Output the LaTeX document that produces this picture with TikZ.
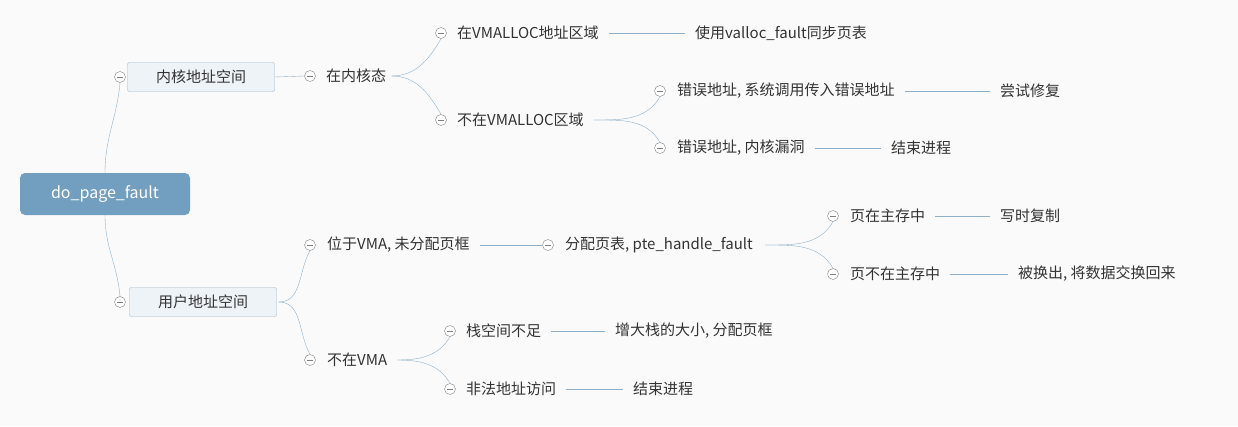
\documentclass[tikz,border=0pt]{standalone}
\usepackage{fontspec}
\setmainfont{Noto Sans CJK SC}
\usetikzlibrary{positioning}
\definecolor{lineColor}{HTML}{8FB0C8}
\definecolor{rootColor}{HTML}{729FC0}
\definecolor{boxColor}{HTML}{EEF3F8}
\definecolor{boxLine}{HTML}{9DB5CA}
\tikzset{
  x=1pt,y=-1pt,
  txt/.style={anchor=west,inner sep=0pt,font=\fontsize{15}{18}\selectfont,text=black!80},
  fold/.style={circle,draw=gray,fill=white,inner sep=0pt,minimum size=11pt,thin,
    path picture={\draw[gray] ([xshift=-3pt]path picture bounding box.center) -- ([xshift=3pt]path picture bounding box.center);}},
  link/.style={draw=lineColor,thin},
  sub/.style={draw=boxLine,fill=boxColor,rounded corners=2pt,minimum width=147pt,minimum height=29pt,inner sep=0pt,font=\fontsize{15}{18}\selectfont,text=black!80}
}
\begin{document}
\begin{tikzpicture}
\fill[white!98!black] (0,0) rectangle (1238,426);
\useasboundingbox (0,0) rectangle (1238,426);
% root and first level
\node[fill=rootColor,rounded corners=5pt,minimum width=170pt,minimum height=42pt,text=white,font=\fontsize{16}{18}\selectfont] (root) at (105,194) {do\_page\_fault};
\node[sub] (kern) at (201,77) {内核地址空间};
\node[sub] (user) at (203,302) {用户地址空间};
\node[fold] (ck) at (120,77) {};
\node[fold] (cu) at (120,302) {};
\draw[link] (root.north) to[out=90,in=265] (ck.south);
\draw[link] (root.south) to[out=270,in=95] (cu.north);
% kernel side
\node[fold] (c1) at (310,76) {};
\node[txt] (inKern) at (326,76) {在内核态};
\draw[link] (kern.east) -- (c1.west);
\node[fold] (c2) at (441,33) {};
\node[txt] (inVm) at (457,33) {在VMALLOC地址区域};
\node[fold] (c3) at (441,120) {};
\node[txt] (notVm) at (457,120) {不在VMALLOC区域};
\draw[link] (inKern.east) ++(5,0) coordinate (b1) to[out=0,in=240] (c2.south);
\draw[link] (b1) to[out=0,in=120] (c3.north);
\node[txt] (valloc) at (695,33) {使用valloc\_fault同步页表};
\draw[link] ([xshift=10pt]inVm.east) -- ([xshift=-10pt]valloc.west);
\node[fold] (c4) at (660,91) {};
\node[txt] (err1) at (677,91) {错误地址, 系统调用传入错误地址};
\node[fold] (c5) at (660,148) {};
\node[txt] (err2) at (677,148) {错误地址, 内核漏洞};
\draw[link] (notVm.east) ++(10,0) coordinate (b2) to[out=0,in=240] (c4.south);
\draw[link] (b2) to[out=0,in=120] (c5.north);
\node[txt] (fix) at (1000,91) {尝试修复};
\draw[link] ([xshift=10pt]err1.east) -- ([xshift=-10pt]fix.west);
\node[txt] (end1) at (891,148) {结束进程};
\draw[link] ([xshift=10pt]err2.east) -- ([xshift=-10pt]end1.west);
% user side
\node[fold] (c6) at (310,245) {};
\node[txt] (inVma) at (327,245) {位于VMA, 未分配页框};
\node[fold] (c7) at (310,360) {};
\node[txt] (notVma) at (327,360) {不在VMA};
\draw[link] (user.east) ++(2,0) coordinate (b3) to[out=0,in=240] (c6.south);
\draw[link] (b3) to[out=0,in=120] (c7.north);
\node[fold] (c8) at (548,245) {};
\node[txt] (pte) at (565,245) {分配页表, pte\_handle\_fault};
\draw[link] ([xshift=10pt]inVma.east) -- (c8.west);
\node[fold] (c9) at (833,216) {};
\node[txt] (inMem) at (850,216) {页在主存中};
\node[fold] (c10) at (833,274) {};
\node[txt] (outMem) at (850,274) {页不在主存中};
\draw[link] (pte.east) ++(12,0) coordinate (b4) to[out=0,in=240] (c9.south);
\draw[link] (b4) to[out=0,in=120] (c10.north);
\node[txt] (cow) at (1000,216) {写时复制};
\draw[link] ([xshift=10pt]inMem.east) -- ([xshift=-10pt]cow.west);
\node[txt] (swap) at (1018,274) {被换出, 将数据交换回来};
\draw[link] ([xshift=10pt]outMem.east) -- ([xshift=-10pt]swap.west);
\node[fold] (c11) at (450,331) {};
\node[txt] (stack) at (466,331) {栈空间不足};
\node[fold] (c12) at (450,389) {};
\node[txt] (bad) at (466,389) {非法地址访问};
\draw[link] (notVma.east) ++(10,0) coordinate (b5) to[out=0,in=240] (c11.south);
\draw[link] (b5) to[out=0,in=120] (c12.north);
\node[txt] (grow) at (615,331) {增大栈的大小, 分配页框};
\draw[link] ([xshift=10pt]stack.east) -- ([xshift=-10pt]grow.west);
\node[txt] (end2) at (633,389) {结束进程};
\draw[link] ([xshift=10pt]bad.east) -- ([xshift=-10pt]end2.west);
\end{tikzpicture}
\end{document}
